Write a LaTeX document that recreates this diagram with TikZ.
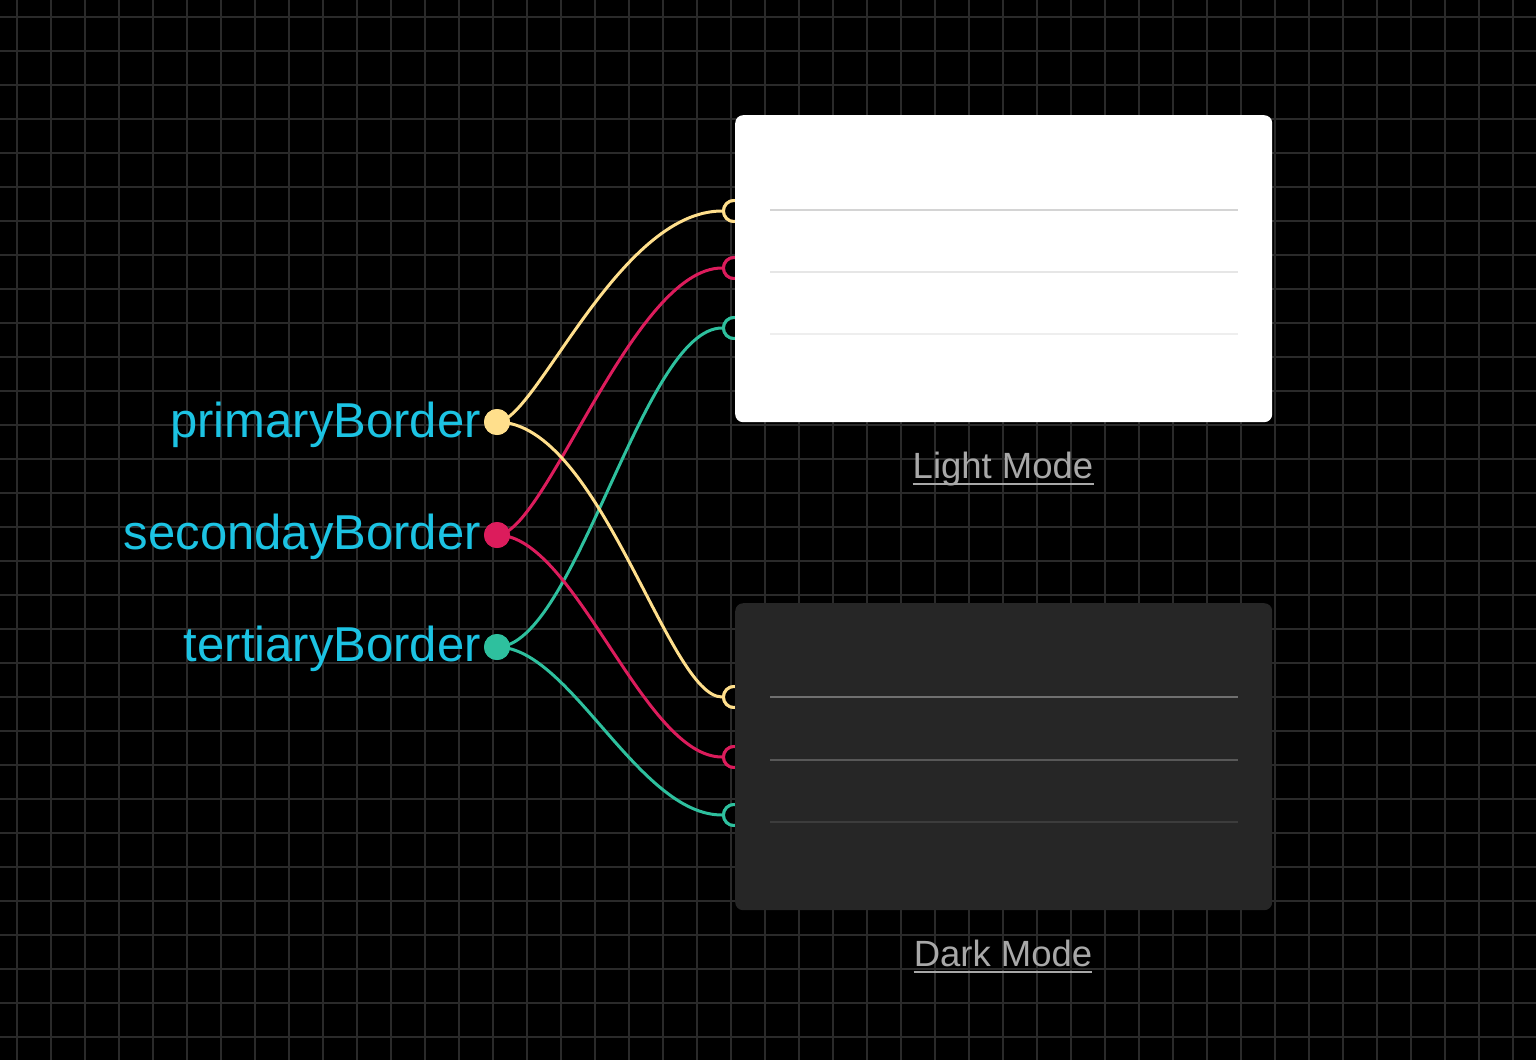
\documentclass[tikz,border=0pt]{standalone}
\usepackage{fontspec}
\newfontfamily\lblfont{Liberation Sans}
\definecolor{gridc}{HTML}{2A2A2A}
\definecolor{yel}{HTML}{FFDF8C}
\definecolor{redc}{HTML}{DC1C5C}
\definecolor{tealc}{HTML}{2EC09E}
\definecolor{cyanc}{HTML}{1CC3E3}
\definecolor{modec}{HTML}{A8A8A8}
\definecolor{darkbox}{HTML}{262626}
\tikzset{
  gridline/.style={draw=gridc, line width=2pt},
  wire/.style={line width=3pt},
  srcdot/.style={circle, inner sep=0pt, minimum size=26pt, draw=none},
  port/.style={circle, inner sep=0pt, minimum size=21pt, line width=3pt, fill=black},
  panel/.style={rounded corners=8pt, minimum width=537pt, minimum height=307pt, anchor=north west, inner sep=0pt, draw=none},
  lbl/.style={font=\lblfont\fontsize{49}{55}\selectfont, text=cyanc, inner sep=0pt, anchor=base east},
  mode/.style={font=\lblfont\fontsize{36.5}{42}\selectfont, text=modec, inner sep=0pt, anchor=base},
  ul/.style={draw=modec, line width=2pt},
}
\begin{document}
\begin{tikzpicture}[x=1pt,y=-1pt]
\fill[black] (0,0) rectangle (1536,1060);
\useasboundingbox (0,0) rectangle (1536,1060);
\foreach \i in {0,...,44} \draw[gridline] ({17+34*\i},0) -- ({17+34*\i},1060);
\foreach \j in {0,...,30} \draw[gridline] (0,{17+34*\j}) -- (1536,{17+34*\j});

% source dots (coordinates first for wires)
\node[srcdot, fill=yel] (py) at (497,422) {};
\node[srcdot, fill=redc] (sr) at (497,535) {};
\node[srcdot, fill=tealc] (tt) at (497,647) {};

% ports
\node[port, draw=yel] (l1) at (734,211) {};
\node[port, draw=redc] (l2) at (734,268) {};
\node[port, draw=tealc] (l3) at (734,328) {};
\node[port, draw=yel] (d1) at (734,697) {};
\node[port, draw=redc] (d2) at (734,757) {};
\node[port, draw=tealc] (d3) at (734,815) {};

% wires
\draw[wire, yel] (py.center) .. controls +(38,0) and +(-104,0) .. (l1.west);
\draw[wire, redc] (sr.center) .. controls +(48,0) and +(-89,0) .. (l2.west);
\draw[wire, tealc] (tt.center) .. controls +(78,0) and +(-79,0) .. (l3.west);
\draw[wire, yel] (py.center) .. controls +(103,0) and +(-54,0) .. (d1.west);
\draw[wire, redc] (sr.center) .. controls +(78,0) and +(-79,0) .. (d2.west);
\draw[wire, tealc] (tt.center) .. controls +(73,0) and +(-84,0) .. (d3.west);

% redraw ports above wires
\node[port, draw=yel] at (l1) {};
\node[port, draw=redc] at (l2) {};
\node[port, draw=tealc] at (l3) {};
\node[port, draw=yel] at (d1) {};
\node[port, draw=redc] at (d2) {};
\node[port, draw=tealc] at (d3) {};

% panels
\node[panel, fill=white] (light) at (735,115) {};
\node[panel, fill=darkbox] (dark) at (735,603) {};
\draw[line width=2pt, draw={rgb,255:red,212;green,212;blue,212}] (770,210) -- (1238,210);
\draw[line width=2pt, draw={rgb,255:red,230;green,230;blue,230}] (770,272) -- (1238,272);
\draw[line width=2pt, draw={rgb,255:red,238;green,238;blue,238}] (770,334) -- (1238,334);
\draw[line width=2pt, draw={rgb,255:red,112;green,112;blue,112}] (770,697) -- (1238,697);
\draw[line width=2pt, draw={rgb,255:red,88;green,88;blue,88}] (770,760) -- (1238,760);
\draw[line width=2pt, draw={rgb,255:red,60;green,60;blue,60}] (770,822) -- (1238,822);

% source dots on top
\node[srcdot, fill=yel] at (py) {};
\node[srcdot, fill=redc] at (sr) {};
\node[srcdot, fill=tealc] at (tt) {};

% labels
\node[lbl] (tp) at (481,437) {primaryBorder};
\node[lbl] (ts) at (481,549) {secondayBorder};
\node[lbl] (tt3) at (481,661) {tertiaryBorder};

\node[mode] (lm) at (1003,478) {Light Mode};
\draw[ul] ([yshift=-6pt]lm.base west) -- ([yshift=-6pt]lm.base east);
\node[mode] (dm) at (1003,966) {Dark Mode};
\draw[ul] ([yshift=-6pt]dm.base west) -- ([yshift=-6pt]dm.base east);
\end{tikzpicture}
\end{document}
